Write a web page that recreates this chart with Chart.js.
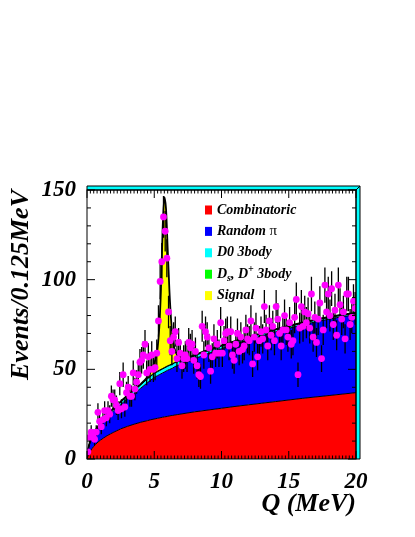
<!DOCTYPE html>
<html>
<head>
<meta charset="utf-8">
<script src="https://cdn.jsdelivr.net/npm/chart.js@4.4.1/dist/chart.umd.min.js"></script>
<style>
  html, body { margin: 0; padding: 0; background: #fff; }
  #plot { display: block; }
</style>
</head>
<body>
<canvas id="plot" width="415" height="537"></canvas>
<script>
// fit components, events per 0.125 MeV
const fitQ = [0, 0.1, 0.25, 0.5, 0.75, 1, 1.5, 2, 2.5, 3, 3.5, 4, 4.5, 4.75, 5,
    5.125, 5.25, 5.375, 5.5, 5.625, 5.75, 5.875, 6, 6.125, 6.25, 6.375, 6.5, 6.75, 7,
    7.5, 8, 9, 10, 11, 12, 13, 14, 15, 16, 17, 18, 19, 20];
const combinatoric = [0, 2.5, 4.5, 7, 9, 10.5, 13, 15, 16.8, 18.2, 19.4, 20.5, 21.4, 21.9, 22.3,
    22.5, 22.7, 22.9, 23.1, 23.3, 23.5, 23.6, 23.8, 24, 24.2, 24.3, 24.5, 24.8, 25.1,
    25.7, 26.3, 27.3, 28.3, 29.3, 30.2, 31.1, 32, 32.9, 33.8, 34.6, 35.4, 36.2, 37];
const randomPi = [0, 3.2, 5.1, 6.8, 7.7, 8.5, 10.2, 12, 13.5, 15.4, 17, 19, 21.2, 22.1, 23.2,
    23.5, 23.8, 24.1, 24.4, 24.7, 25, 25.4, 25.7, 25.9, 26.1, 26.4, 26.9, 27.3, 27.9,
    28.6, 29.6, 31.5, 33.2, 34.7, 36.2, 37.6, 38.9, 40, 40.9, 41.9, 42.6, 43.2, 43.4];
const d0ThreeBody = [0, 0.2, 0.3, 0.5, 0.6, 0.8, 1, 1.2, 1.4, 1.6, 1.8, 2, 2.1, 2.2, 2.2,
    2.2, 2.2, 2.2, 2.2, 2.2, 2.2, 2.2, 2.2, 2.2, 2.2, 2.2, 2.1, 2.1, 2,
    2, 1.8, 1.7, 1.5, 1.4, 1.3, 1.2, 1.1, 1, 1, 0.9, 0.9, 0.8, 0.8];
const dsDpThreeBody = [0, 0.1, 0.1, 0.2, 0.2, 0.2, 0.3, 0.3, 0.3, 0.3, 0.3, 0.3, 0.3, 0.3, 0.3,
    0.3, 0.3, 0.3, 0.3, 0.3, 0.3, 0.3, 0.3, 0.3, 0.3, 0.3, 0.3, 0.3, 0.3,
    0.3, 0.3, 0.3, 0.3, 0.3, 0.3, 0.3, 0.3, 0.3, 0.3, 0.3, 0.3, 0.3, 0.3];
const signal = [0, 0, 0, 0, 0, 0, 0, 0, 0, 0, 0, 0, 0.8, 2.5, 5.5,
    8, 13, 24, 45, 78, 95, 88, 65, 42, 25, 14, 8, 3, 1.2,
    0, 0, 0, 0, 0, 0, 0, 0, 0, 0, 0, 0, 0, 0];

// data, 160 bins of 0.125 MeV
const binWidth = 0.125;
const counts = [
    4, 12, 15, 13, 11, 15, 26, 21,
    18, 22, 27, 23, 27, 25, 35, 33,
    33, 30, 27, 42, 28, 47, 29, 37,
    40, 35, 35, 48, 39, 43, 47, 54,
    55, 58, 64, 48, 57, 50, 58, 50,
    51, 59, 77, 99, 110, 135, 127, 112,
    82, 66, 60, 68, 71, 56, 65, 59,
    52, 56, 58, 56, 65, 62, 64, 55,
    60, 52, 47, 46, 74, 58, 71, 68,
    62, 49, 57, 67, 59, 64, 59, 76,
    59, 66, 70, 71, 63, 71, 58, 55,
    64, 70, 60, 68, 61, 63, 72, 67,
    66, 77, 53, 68, 73, 57, 66, 71,
    67, 85, 72, 63, 77, 69, 74, 66,
    85, 78, 70, 63, 72, 80, 72, 68,
    76, 64, 66, 79, 89, 47, 73, 85,
    74, 82, 76, 81, 73, 92, 68, 79,
    65, 78, 87, 56, 72, 97, 82, 92,
    80, 95, 75, 83, 69, 97, 86, 78,
    82, 67, 92, 92, 75, 79, 88, 84
];

const xTicks = [0, 5, 10, 15, 20];
const yTicks = [0, 50, 100, 150];
const compColors = ['#ff0000', '#0000ff', '#00ffff', '#00ff00', '#ffff00'];
// legend text, pieces: [text, style]
const legendLabels = [
    [['Combinatoric']],
    [['Random '], ['\u03c0', 'greek']],
    [['D0 3body']],
    [['D'], ['s', 'sub'], [', D'], ['+', 'sup'], [' 3body']],
    [['Signal']]
];

const serif = '"Liberation Serif", "Times New Roman", serif';

// stack the components
const components = [combinatoric, randomPi, d0ThreeBody, dsDpThreeBody, signal];
let running = fitQ.map(() => 0);
const compDatasets = components.map((c, k) => {
    running = running.map((v, i) => v + c[i]);
    return {
        type: 'line',
        data: running.map((v, i) => ({x: fitQ[i], y: v})),
        borderColor: '#000',
        borderWidth: k === 4 ? 1.8 : 1,
        backgroundColor: compColors[k],
        fill: k === 0 ? 'origin' : '-1',
        pointRadius: 0,
        cubicInterpolationMode: 'monotone',
        order: 10 - k
    };
});

const points = counts.map((n, i) => ({x: (i + 0.5) * binWidth, y: n}));

const errorBars = {
    id: 'errorBars',
    beforeDatasetDraw(chart, args) {
        if (args.index !== 5) return;
        const {ctx, chartArea, scales: {y}} = chart;
        ctx.save();
        ctx.beginPath();
        ctx.rect(chartArea.left, chartArea.top, chartArea.width, chartArea.height);
        ctx.clip();
        ctx.strokeStyle = '#000';
        ctx.lineWidth = 1.3;
        ctx.beginPath();
        args.meta.data.forEach((pt, i) => {
            const err = Math.sqrt(counts[i]);
            ctx.moveTo(pt.x, y.getPixelForValue(counts[i] - err));
            ctx.lineTo(pt.x, y.getPixelForValue(counts[i] + err));
        });
        ctx.stroke();
        ctx.restore();
    }
};

const rootFrame = {
    id: 'rootFrame',
    afterDraw(chart) {
        const {ctx, chartArea: a, scales: {x, y}} = chart;
        const b = 4;
        ctx.save();
        ctx.lineWidth = 1;
        ctx.strokeStyle = '#000';
        ctx.fillStyle = '#00ffff';
        // top and right border bands
        ctx.beginPath();
        ctx.moveTo(a.left, a.top);
        ctx.lineTo(a.right, a.top);
        ctx.lineTo(a.right + b, a.top - b);
        ctx.lineTo(a.left, a.top - b);
        ctx.closePath();
        ctx.fill();
        ctx.stroke();
        ctx.beginPath();
        ctx.moveTo(a.right, a.top);
        ctx.lineTo(a.right + b, a.top - b);
        ctx.lineTo(a.right + b, a.bottom);
        ctx.lineTo(a.right, a.bottom);
        ctx.closePath();
        ctx.fill();
        ctx.stroke();
        ctx.strokeRect(a.left, a.top, a.width, a.height);

        // inward ticks on all four sides
        ctx.beginPath();
        for (let k = 0; k <= 80; k++) {
            const q = k * 0.25;
            const px = x.getPixelForValue(q);
            const len = q % 5 === 0 ? 8 : 3.5;
            ctx.moveTo(px, a.bottom);
            ctx.lineTo(px, a.bottom - len);
            ctx.moveTo(px, a.top);
            ctx.lineTo(px, a.top + len);
        }
        for (let v = 0; v <= 150; v += 10) {
            const py = y.getPixelForValue(v);
            const len = v % 50 === 0 ? 8 : 4;
            ctx.moveTo(a.left, py);
            ctx.lineTo(a.left + len, py);
            ctx.moveTo(a.right, py);
            ctx.lineTo(a.right - len, py);
        }
        ctx.stroke();

        // legend
        const boxX = a.left + 118;
        const textX = a.left + 130;
        legendLabels.forEach((parts, k) => {
            const cy = a.top + 20 + k * 21.4;
            ctx.fillStyle = compColors[k];
            ctx.fillRect(boxX, cy - 4.5, 7, 9);
            ctx.fillStyle = '#000';
            ctx.textBaseline = 'middle';
            ctx.textAlign = 'left';
            let tx = textX;
            parts.forEach(([t, style]) => {
                let dy = 0;
                if (style === 'sub') { ctx.font = 'bold italic 10px ' + serif; dy = 4; }
                else if (style === 'sup') { ctx.font = 'bold italic 10px ' + serif; dy = -5; }
                else if (style === 'greek') { ctx.font = '15px ' + serif; }
                else { ctx.font = 'bold italic 14px ' + serif; }
                ctx.fillText(t, tx, cy + dy);
                tx += ctx.measureText(t).width;
            });
        });
        ctx.restore();
    }
};

const tickFont = {family: serif, size: 23, weight: 'bold', style: 'italic'};
const titleFont = {family: serif, size: 26, weight: 'bold', style: 'italic'};

new Chart(document.getElementById('plot'), {
    type: 'line',
    data: {
        datasets: [...compDatasets, {
            type: 'line',
            data: points,
            showLine: false,
            pointRadius: 3.4,
            pointBackgroundColor: '#ff00ff',
            pointBorderColor: '#ff00ff',
            pointBorderWidth: 0,
            order: 0
        }]
    },
    options: {
        responsive: false,
        animation: false,
        devicePixelRatio: 1,
        layout: {padding: {top: 190, right: 59, left: 0, bottom: 0}},
        plugins: {
            legend: {display: false},
            tooltip: {enabled: false},
            filler: {drawTime: 'beforeDatasetsDraw'}
        },
        scales: {
            x: {
                type: 'linear',
                min: 0,
                max: 20,
                grid: {display: false},
                border: {display: false},
                afterBuildTicks: s => { s.ticks = xTicks.map(v => ({value: v})); },
                afterFit: s => { s.height = 78; },
                ticks: {color: '#000', font: tickFont, padding: 1, maxRotation: 0, autoSkip: false},
                title: {display: true, text: 'Q (MeV)', align: 'end', color: '#000', font: titleFont,
                    padding: {top: 0, bottom: 17}}
            },
            y: {
                type: 'linear',
                min: 0,
                max: 150,
                grid: {display: false},
                border: {display: false},
                afterBuildTicks: s => { s.ticks = yTicks.map(v => ({value: v})); },
                afterFit: s => { s.width = 87; },
                ticks: {color: '#000', font: tickFont, padding: 3},
                title: {display: true, text: 'Events/0.125MeV', align: 'end', color: '#000', font: titleFont,
                    padding: {top: 6, bottom: 0}}
            }
        }
    },
    plugins: [errorBars, rootFrame]
});
</script>
</body>
</html>
